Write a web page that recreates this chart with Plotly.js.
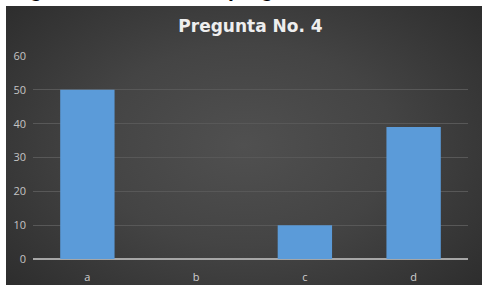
<!DOCTYPE html>
<html>
<head>
<meta charset="utf-8">
<script src="https://cdn.plot.ly/plotly-3.0.1.min.js"></script>
<style>
  html, body { margin: 0; padding: 0; background: #ffffff; overflow: hidden; }
  #bg { position: absolute; left: 6px; top: 6px; width: 476px; height: 279px;
        background: radial-gradient(ellipse 70% 80% at 50% 50%, #505050 0%, #444444 45%, #2b2b2b 100%); }
  #chart { position: absolute; left: 0; top: 0; width: 482px; height: 285px; }
</style>
</head>
<body>
<div id="bg"></div>
<div id="chart"></div>
<script>
const categories = ['a', 'b', 'c', 'd'];
const values = [50, 0, 10, 39];
const yTicks = [0, 10, 20, 30, 40, 50, 60];
const chartTitle = 'Pregunta No. 4';
const caption = 'Figura No. Resultado pregunta No. 4, Resu';

const trace = {
  type: 'bar',
  x: categories,
  y: values,
  marker: { color: '#5b9bd9', line: { width: 0 } },
  hoverinfo: 'none'
};

const layout = {
  width: 482, height: 285,
  margin: { l: 33, r: 14, t: 56, b: 26 },
  paper_bgcolor: 'rgba(0,0,0,0)',
  plot_bgcolor: 'rgba(0,0,0,0)',
  bargap: 0.5,
  showlegend: false,
  title: {
    text: '<b>' + chartTitle + '</b>',
    font: { family: 'DejaVu Sans', size: 17, color: '#eeeeee' },
    x: 0.5, xanchor: 'center', xref: 'paper',
    y: 1 - 26 / 285, yanchor: 'middle', yref: 'container'
  },
  xaxis: {
    type: 'category',
    showgrid: false,
    zeroline: false,
    showline: false,
    ticks: '',
    ticklabelstandoff: 10,
    tickfont: { family: 'Open Sans', size: 11, color: '#cfcfcf' },
    fixedrange: true
  },
  yaxis: {
    range: [0, 60],
    tickvals: yTicks,
    ticktext: yTicks.map(String),
    showgrid: true,
    gridcolor: '#585858',
    gridwidth: 1,
    zeroline: true,
    zerolinecolor: '#a6a6a6',
    zerolinewidth: 2,
    showline: false,
    ticks: '',
    ticklabelstandoff: 6,
    tickfont: { family: 'Open Sans', size: 11, color: '#c4c4c4' },
    fixedrange: true
  },
  annotations: [{
    text: '<b>' + caption + '</b>',
    xref: 'paper', yref: 'paper',
    x: -24 / 435, xanchor: 'left',
    y: 1 + 53 / 203, yanchor: 'bottom',
    showarrow: false,
    font: { family: 'Liberation Sans', size: 21, color: '#000000' }
  }]
};

Plotly.newPlot('chart', [trace], layout, { displayModeBar: false, staticPlot: true });
</script>
</body>
</html>
